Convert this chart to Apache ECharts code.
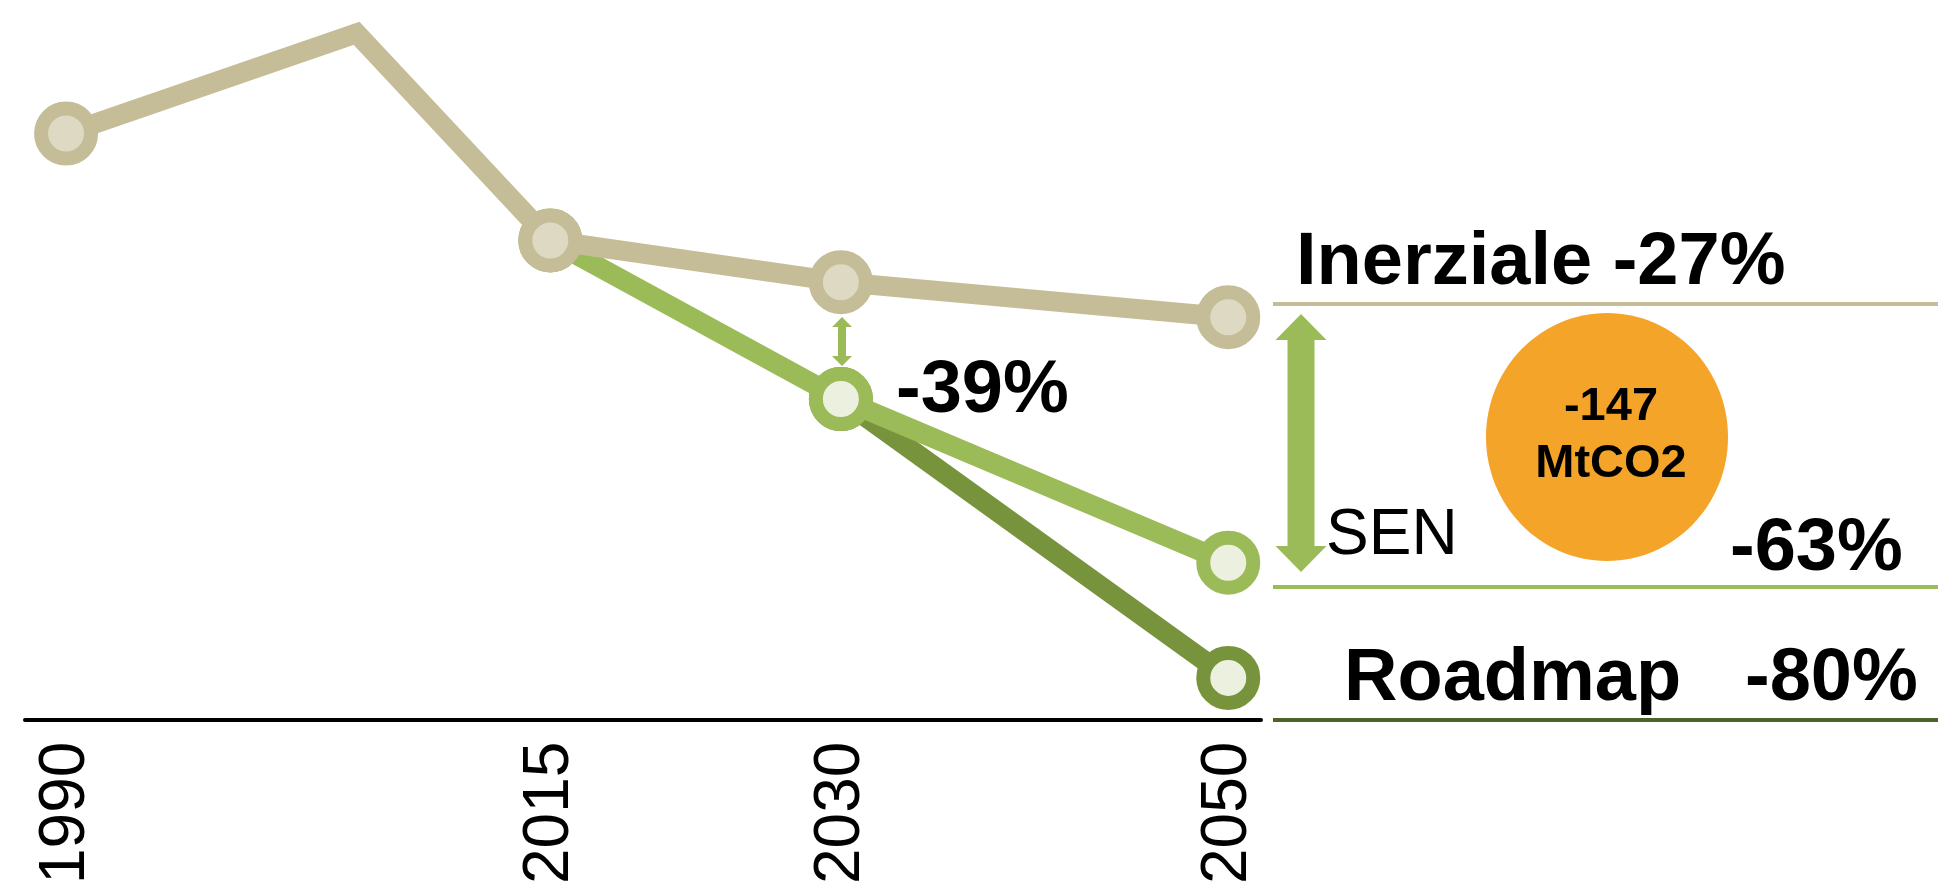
<!DOCTYPE html>
<html>
<head>
<meta charset="utf-8">
<script src="https://cdn.jsdelivr.net/npm/echarts@6/dist/echarts.min.js"></script>
<style>
html,body{margin:0;padding:0;background:#fff;}
#chart{width:1938px;height:887px;}
</style>
</head>
<body>
<div id="chart"></div>
<script>
// Data (MtCO2)
const inerzialeYears = [1990, 2005, 2015, 2030, 2050];
const inerziale = [408, 468, 344, 319, 298];
const senYears = [2015, 2030, 2050];
const sen = [344, 249, 151];
const roadmapYears = [2030, 2050];
const roadmap = [249, 82];
const tickYears = [1990, 2015, 2030, 2050];

const base = inerziale[0];
const pct = v => Math.round((v / base - 1) * 100) + '%';
const last = a => a[a.length - 1];

const FONT = '"Liberation Sans", Arial, sans-serif';
const C_BEIGE = '#C4BD97', C_BEIGE_F = '#DDD9C3';
const C_SEN = '#9BBB59', C_ROAD = '#77933C', C_GREEN_F = '#EBF1DE';
const C_DARK = '#4F6228', C_ORANGE = '#F5A42A';

const chart = echarts.init(document.getElementById('chart'), null, {renderer: 'canvas'});

function lineSeries(name, xs, ys, color, fill, z, noSymbolYears) {
  return {
    name, type: 'line', z, clip: false, animation: false, silent: true,
    showSymbol: true, symbol: 'circle', symbolSize: 50,
    data: xs.map((x, i) => {
      const d = {value: [x, ys[i]]};
      if (noSymbolYears && noSymbolYears.includes(x)) d.symbol = 'none';
      return d;
    }),
    lineStyle: {color, width: 20, join: 'miter'},
    itemStyle: {color: fill, borderColor: color, borderWidth: 14},
    emphasis: {disabled: true}
  };
}

function arrow(cx, top, bottom, hw, hh, sw, color) {
  return {
    type: 'polygon', silent: true,
    shape: {points: [[cx, top], [cx + hw, top + hh], [cx + sw, top + hh], [cx + sw, bottom - hh],
      [cx + hw, bottom - hh], [cx, bottom], [cx - hw, bottom - hh], [cx - sw, bottom - hh],
      [cx - sw, top + hh], [cx - hw, top + hh]]},
    style: {fill: color}
  };
}
function txt(text, x, y, size, bold, align) {
  return {
    type: 'text', silent: true, z: 100,
    style: {text, x, y, font: (bold ? 'bold ' : '') + size + 'px ' + FONT, fill: '#000',
      align: align || 'left', verticalAlign: 'middle', textAlign: align || 'left', textVerticalAlign: 'middle'}
  };
}
function hline(y, color) {
  return {type: 'line', silent: true, shape: {x1: 1273, y1: y, x2: 1938, y2: y},
    style: {stroke: color, lineWidth: 4}};
}

chart.setOption({
  animation: false,
  grid: {left: 25, top: 0, width: 1236, height: 720, containLabel: false},
  xAxis: {
    type: 'value', min: 1987.88, max: 2051.69,
    axisLine: {show: true, lineStyle: {color: '#000', width: 4}},
    axisTick: {show: false}, splitLine: {show: false},
    axisLabel: {
      customValues: tickYears, rotate: 90, margin: 22,
      fontSize: 64, fontFamily: FONT, color: '#000',
      formatter: v => String(v)
    }
  },
  yAxis: {type: 'value', min: 57, max: 488, show: false, splitLine: {show: false}},
  series: [
    lineSeries('Roadmap', roadmapYears, roadmap, C_ROAD, C_GREEN_F, 2),
    lineSeries('SEN', senYears, sen, C_SEN, C_GREEN_F, 3),
    lineSeries('Inerziale', inerzialeYears, inerziale, C_BEIGE, C_BEIGE_F, 4, [2005])
  ],
  graphic: [
    hline(304, C_BEIGE), hline(587, C_SEN), hline(720, C_DARK),
    arrow(1301, 314, 572, 25.5, 26, 13.5, C_SEN),
    arrow(842, 317, 366, 10, 10, 4, C_SEN),
    {type: 'ellipse', silent: true, shape: {cx: 1607, cy: 437, rx: 121, ry: 124}, style: {fill: C_ORANGE}},
    txt('Inerziale ' + pct(last(inerziale)), 1296, 264, 74, true),
    txt(pct(sen[1]), 896, 392, 74, true),
    txt('SEN', 1326, 536, 64, false),
    txt(pct(last(sen)), 1730, 550, 74, true),
    txt('Roadmap', 1344, 680, 74, true),
    txt(pct(last(roadmap)), 1745, 680, 74, true),
    txt(String(last(sen) - last(inerziale)), 1611, 407, 47, true, 'center'),
    txt('MtCO2', 1611, 464, 47, true, 'center')
  ]
});
</script>
</body>
</html>
